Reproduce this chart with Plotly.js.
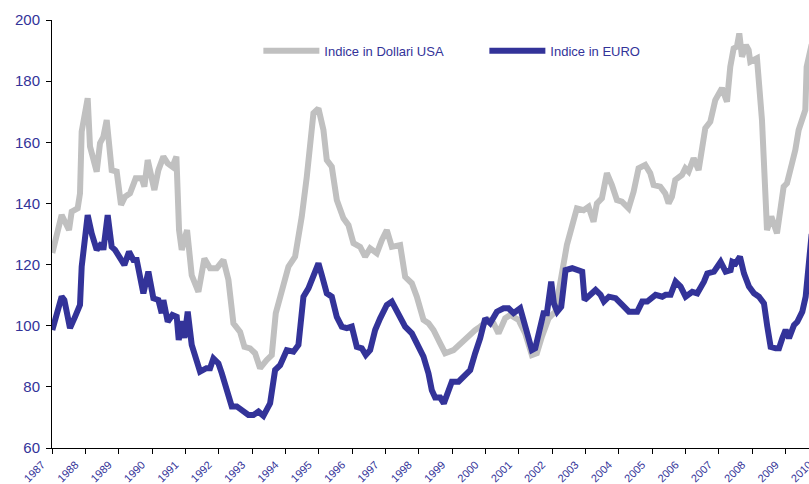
<!DOCTYPE html>
<html>
<head>
<meta charset="utf-8">
<script src="https://cdn.plot.ly/plotly-3.0.1.min.js"></script>
<style>
html, body { margin: 0; padding: 0; overflow: hidden; background: #ffffff; width: 809px; height: 484px; }
#chart { width: 829px; height: 484px; }
</style>
</head>
<body>
<div id="chart"></div>
<script>
// Series names
const seriesUsdName = "Indice in Dollari USA";
const seriesEurName = "Indice in EURO";

// Index in US dollars (decimal year, value)
const usdYears = [1987.01,1987.29,1987.51,1987.59,1987.77,1987.84,1987.89,1988.07,1988.14,1988.34,1988.44,1988.54,1988.64,1988.74,1988.79,1988.94,1989.07,1989.19,1989.34,1989.51,1989.69,1989.77,1989.87,1990.07,1990.19,1990.34,1990.47,1990.61,1990.73,1990.81,1990.89,1991.05,1991.19,1991.39,1991.57,1991.74,1991.94,1992.14,1992.29,1992.44,1992.64,1992.77,1992.94,1993.09,1993.24,1993.44,1993.59,1993.71,1993.89,1994.09,1994.29,1994.49,1994.64,1994.74,1994.84,1994.99,1995.14,1995.24,1995.39,1995.54,1995.74,1995.89,1996.04,1996.24,1996.39,1996.54,1996.74,1996.89,1997.04,1997.19,1997.44,1997.59,1997.79,1997.94,1998.14,1998.29,1998.44,1998.64,1998.79,1999.04,1999.34,1999.54,1999.69,1999.84,2000.09,2000.24,2000.39,2000.59,2000.74,2000.99,2001.19,2001.39,2001.54,2001.69,2001.89,2002.09,2002.19,2002.34,2002.44,2002.59,2002.74,2002.94,2003.09,2003.24,2003.34,2003.49,2003.64,2003.79,2003.94,2004.09,2004.29,2004.44,2004.59,2004.79,2004.94,2005.04,2005.24,2005.39,2005.49,2005.59,2005.69,2005.89,2005.99,2006.09,2006.19,2006.24,2006.39,2006.49,2006.59,2006.74,2006.89,2007.09,2007.24,2007.34,2007.44,2007.54,2007.61,2007.69,2007.81,2007.89,2007.94,2008.14,2008.29,2008.41,2008.44,2008.57,2008.64,2008.74,2008.94,2009.04,2009.19,2009.29,2009.39,2009.59,2009.63,2009.71,2009.78];
const usdIndex = [123.8,136.2,131.3,137.3,138.4,143.3,163.5,174.4,158.6,150.4,159.7,161.8,167.3,155.3,150.9,150.4,139.5,142.2,143.3,148.2,148.2,145.5,154.2,144.4,150.9,155.3,153.1,152.0,155.3,131.3,124.8,131.3,116.5,111.1,122.0,118.8,118.8,121.5,115.0,100.8,98.0,93.1,92.6,91.0,86.1,88.8,90.4,104.1,111.7,119.3,122.6,135.7,148.7,157.5,169.5,171.1,164.0,154.2,152.0,141.1,135.1,132.9,127.0,125.8,122.6,125.3,123.7,128.0,131.3,125.8,126.4,116.0,113.9,109.5,101.9,100.8,98.6,94.2,91.0,92.0,95.3,97.0,98.6,99.7,101.9,100.8,97.5,102.4,103.5,101.9,97.5,90.4,91.0,96.4,102.4,104.6,111.7,121.5,126.4,132.4,138.4,137.8,138.9,134.0,140.0,141.7,149.9,146.0,141.1,140.6,138.4,143.8,151.5,152.6,149.9,146.0,145.5,143.3,140.0,142.2,147.7,149.3,151.5,150.4,154.2,154.8,150.9,159.1,164.6,166.7,173.8,177.7,173.3,184.7,190.7,191.3,195.6,188.0,191.8,190.2,186.4,187.5,167.3,138.9,131.3,135.7,132.9,130.2,145.5,146.6,153.1,157.5,164.0,170.6,184.7,189.1,192.0];

// Index in EURO (decimal year, value)
const eurYears = [1987.01,1987.14,1987.29,1987.37,1987.49,1987.54,1987.69,1987.84,1987.89,1988.07,1988.19,1988.34,1988.49,1988.54,1988.67,1988.79,1988.89,1989.04,1989.17,1989.31,1989.44,1989.54,1989.74,1989.89,1990.04,1990.19,1990.29,1990.34,1990.47,1990.61,1990.74,1990.80,1990.89,1990.97,1991.07,1991.19,1991.34,1991.44,1991.63,1991.74,1991.84,1991.99,1992.09,1992.29,1992.39,1992.54,1992.69,1992.89,1993.04,1993.19,1993.34,1993.54,1993.69,1993.84,1994.04,1994.24,1994.39,1994.54,1994.69,1994.84,1994.99,1995.09,1995.24,1995.39,1995.54,1995.69,1995.84,1995.99,1996.14,1996.29,1996.41,1996.54,1996.69,1996.84,1997.04,1997.19,1997.39,1997.59,1997.79,1997.94,1998.14,1998.29,1998.39,1998.49,1998.64,1998.75,1998.90,1998.99,1999.19,1999.39,1999.54,1999.69,1999.84,1999.99,2000.14,2000.34,2000.54,2000.69,2000.84,2001.04,2001.19,2001.39,2001.49,2001.64,2001.74,2001.84,2001.97,2002.05,2002.15,2002.27,2002.40,2002.60,2002.75,2002.90,2002.97,2003.10,2003.30,2003.45,2003.55,2003.70,2003.90,2004.10,2004.30,2004.55,2004.70,2004.85,2005.10,2005.30,2005.40,2005.55,2005.70,2005.85,2006.00,2006.20,2006.35,2006.55,2006.65,2006.85,2007.05,2007.20,2007.35,2007.40,2007.50,2007.63,2007.75,2007.90,2008.05,2008.20,2008.35,2008.45,2008.55,2008.70,2008.80,2008.90,2009.00,2009.10,2009.25,2009.35,2009.50,2009.60,2009.70,2009.78];
const eurIndex = [98.6,104.1,109.5,108.4,99.7,99.2,102.9,106.8,119.3,136.2,130.2,124.8,127.0,124.8,136.2,125.8,124.8,122.6,119.9,124.2,121.5,121.5,110.6,117.7,109.0,108.4,104.1,108.4,101.3,103.5,102.9,95.3,101.5,96.0,104.6,93.7,87.7,85.0,86.1,86.1,89.3,87.7,84.5,76.8,73.6,73.6,72.4,70.8,70.8,71.9,70.5,74.6,85.5,87.1,92.0,91.5,93.7,109.5,112.2,116.0,120.4,116.6,110.6,109.5,102.9,99.7,99.2,99.7,93.1,92.6,90.4,92.0,98.6,102.4,106.8,107.9,104.1,99.7,97.5,94.2,89.9,84.4,78.9,76.5,76.5,74.6,78.9,81.7,81.7,83.9,85.5,91.0,95.9,102.4,100.8,104.6,105.7,105.7,104.1,105.7,99.7,92.0,92.6,98.6,104.1,104.1,114.4,107.3,104.6,106.2,118.2,118.8,118.2,117.7,108.4,109.5,111.7,110.1,107.9,109.5,109.0,106.8,104.6,104.6,107.9,107.9,110.1,109.5,110.1,110.1,114.4,112.8,109.5,111.1,110.6,114.4,117.1,117.7,120.9,117.7,118.2,120.9,120.4,122.6,117.1,112.8,110.6,109.5,107.3,99.7,93.1,92.6,92.6,95.9,98.6,95.9,100.2,101.3,104.6,109.5,122.6,130.0];

// Axis ticks
const yearTicks = [1987,1988,1989,1990,1991,1992,1993,1994,1995,1996,1997,1998,1999,2000,2001,2002,2003,2004,2005,2006,2007,2008,2009,2010];
const yearLabels = yearTicks.map(String);
const yTicks = [60,80,100,120,140,160,180,200];

const textColor = "#333399";
const fontFamily = "'Liberation Sans', Arial, sans-serif";

const traces = [
  {
    x: usdYears, y: usdIndex, name: seriesUsdName, type: "scatter", mode: "lines",
    line: { color: "#c0c0c0", width: 6, shape: "linear" }
  },
  {
    x: eurYears, y: eurIndex, name: seriesEurName, type: "scatter", mode: "lines",
    line: { color: "#333399", width: 6, shape: "linear" }
  }
];

const layout = {
  width: 829,
  height: 484,
  margin: { l: 52, r: 0, t: 20, b: 36 },
  paper_bgcolor: "#ffffff",
  plot_bgcolor: "#ffffff",
  font: { family: fontFamily, color: textColor, size: 13 },
  showlegend: true,
  legend: {
    orientation: "h",
    x: 0.2656, y: 0.928, xanchor: "left", yanchor: "middle",
    bgcolor: "rgba(0,0,0,0)",
    font: { family: fontFamily, size: 13, color: textColor },
    itemwidth: 56,
    entrywidth: 155, entrywidthmode: "pixels",
    itemclick: false
  },
  xaxis: {
    range: [1987, 2010.3],
    tickmode: "array",
    tickvals: yearTicks,
    ticktext: yearLabels,
    tickangle: -45,
    tickfont: { family: fontFamily, size: 11, color: textColor },
    ticklabelshift: -10,
    ticks: "outside", ticklen: 5, tickcolor: "#000000", tickwidth: 1,
    showline: true, linecolor: "#000000", linewidth: 1,
    showgrid: false, zeroline: false,
    fixedrange: true
  },
  yaxis: {
    range: [60, 200],
    tickmode: "array",
    tickvals: yTicks,
    ticktext: yTicks.map(String),
    tickfont: { family: fontFamily, size: 15, color: textColor },
    ticklabelstandoff: 3,
    ticks: "outside", ticklen: 5, tickcolor: "#000000", tickwidth: 1,
    showline: true, linecolor: "#000000", linewidth: 1,
    showgrid: false, zeroline: false,
    fixedrange: true
  }
};

Plotly.newPlot("chart", traces, layout, { staticPlot: true, displayModeBar: false });
</script>
</body>
</html>
